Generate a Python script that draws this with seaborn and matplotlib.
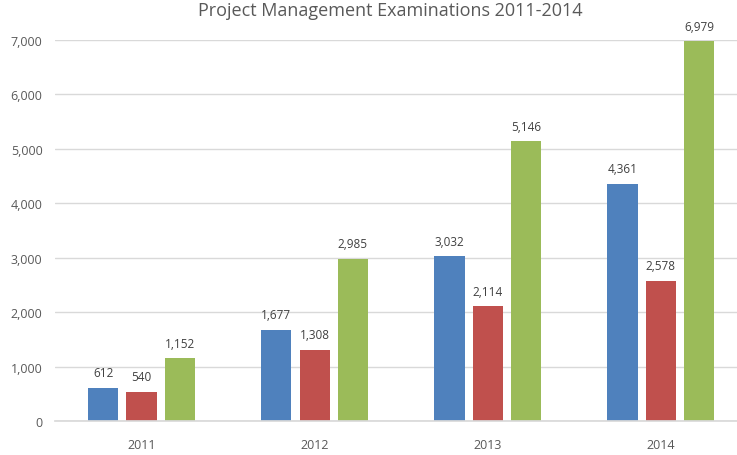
import matplotlib
matplotlib.use("Agg")
import matplotlib.pyplot as plt
import seaborn as sns
import pandas as pd

years = ["2011", "2012", "2013", "2014"]
series = ["A", "B", "C"]
values_a = [612, 1677, 3032, 4361]
values_b = [540, 1308, 2114, 2578]
values_c = [1152, 2985, 5146, 6979]
colors = ["#4F81BD", "#C0504D", "#9BBB59"]
yticks = [0, 1000, 2000, 3000, 4000, 5000, 6000, 7000]

df = pd.DataFrame({
    "year": years * 3,
    "series": [s for s in series for _ in years],
    "value": values_a + values_b + values_c,
})

sns.set_theme(style="white")
plt.rcParams["font.family"] = ["Open Sans", "DejaVu Sans"]

fig = plt.figure(figsize=(7.37, 4.56), dpi=100)
ax = fig.add_axes([0.0746, 0.0746, 0.9254, 0.8354])

sns.barplot(data=df, x="year", y="value", hue="series", palette=colors,
            width=0.663, gap=0.21, legend=False, ax=ax, saturation=1,
            linewidth=0)

for c in ax.containers:
    ax.bar_label(c, labels=[f"{v:,.0f}" for v in c.datavalues],
                 padding=6, fontsize=8.5, color="#404040")

ax.set_ylim(0, 7000)
ax.set_xlim(-0.5, 3.44)
ax.set_yticks(yticks)
ax.set_yticklabels([f"{v:,}" for v in yticks], fontsize=9, color="#595959")
ax.tick_params(axis="x", labelsize=9, labelcolor="#595959", length=0, pad=12)
ax.tick_params(axis="y", length=0, pad=9)
ax.set_xlabel("")
ax.set_ylabel("")
ax.yaxis.grid(True, color="#d9d9d9", linewidth=1)
ax.set_axisbelow(True)
for s in ["top", "right", "left"]:
    ax.spines[s].set_visible(False)
ax.spines["bottom"].set_color("#d9d9d9")

fig.text(0.53, 0.975, "Project Management Examinations 2011-2014",
         ha="center", va="center", fontsize=13, color="#595959")

fig.savefig("out.png", dpi=100)
